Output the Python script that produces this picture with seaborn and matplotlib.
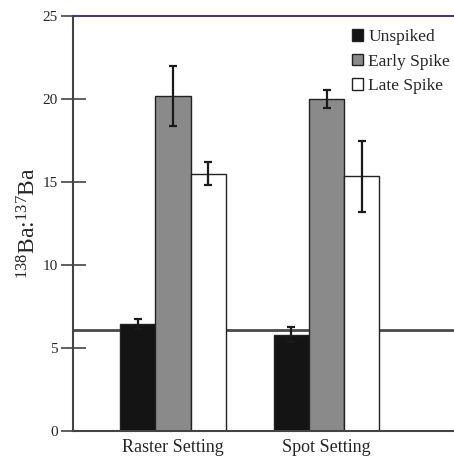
import matplotlib
matplotlib.use("Agg")
import matplotlib.pyplot as plt
import seaborn as sns
import pandas as pd
import numpy as np

settings = ["Raster Setting", "Spot Setting"]
treatments = ["Unspiked", "Early Spike", "Late Spike"]
unspiked = [6.45, 5.8]
early_spike = [20.2, 20.0]
late_spike = [15.5, 15.35]
unspiked_err = [0.3, 0.45]
early_err = [1.8, 0.55]
late_err = [0.7, 2.15]
reference_value = 6.1
y_ticks = [0, 5, 10, 15, 20, 25]

rows = []
for i, s in enumerate(settings):
    for t, vals, errs in zip(treatments, [unspiked, early_spike, late_spike],
                             [unspiked_err, early_err, late_err]):
        rows.append({"Setting": s, "Treatment": t, "Value": vals[i], "Err": errs[i]})
df = pd.DataFrame(rows)

sns.set_theme(style="white")
plt.rcParams["font.family"] = ["Liberation Serif", "DejaVu Serif"]
plt.rcParams["mathtext.fontset"] = "custom"
plt.rcParams["mathtext.rm"] = "Liberation Serif"
plt.rcParams["mathtext.it"] = "Liberation Serif:italic"

fig = plt.figure(figsize=(4.54, 4.62), dpi=100)
ax = fig.add_axes([73 / 454, 1 - 431 / 462, 1 - 73 / 454, (431 - 16) / 462])

palette = {"Unspiked": "#141414", "Early Spike": "#8a8a8a", "Late Spike": "#ffffff"}
sns.barplot(data=df, x="Setting", y="Value", hue="Treatment", order=settings,
            hue_order=treatments, palette=palette, width=0.685, errorbar=None,
            edgecolor="#222222", linewidth=1.0, saturation=1, ax=ax, zorder=2)

# error bars at the bar centres produced by seaborn
for container, t in zip(ax.containers, treatments):
    sub = df[df["Treatment"] == t].set_index("Setting").loc[settings]
    xs = [p.get_x() + p.get_width() / 2 for p in container.patches]
    ax.errorbar(xs, sub["Value"].values, yerr=sub["Err"].values, fmt="none",
                ecolor="#1a1a1a", elinewidth=1.6, capsize=2.8, capthick=1.6, zorder=3)

ax.axhline(reference_value, color="#4a4a4a", lw=2.0, zorder=0.5)

ax.set_ylim(0, 25)
ax.set_xlim(-0.651, 1.83)
ax.set_yticks(y_ticks)
ax.set_yticklabels([str(v) for v in y_ticks], fontsize=11)
ax.tick_params(axis="y", direction="inout", length=18, width=1.2, color="#444444",
               pad=2, left=True)
ax.tick_params(axis="x", length=0, labelsize=13, pad=6)
ax.set_xlabel("")
ax.set_ylabel(r"$^{138}\mathrm{Ba}$:$^{137}\mathrm{Ba}$", fontsize=17)
ax.yaxis.set_label_coords(-0.086, 0.5)

for side in ["left", "bottom"]:
    ax.spines[side].set_color("#444444")
    ax.spines[side].set_linewidth(1.5)
ax.spines["top"].set_color("#4a3a70")
ax.spines["top"].set_linewidth(1.5)
ax.spines["right"].set_visible(False)

leg = ax.legend(loc="upper left", bbox_to_anchor=(352 / 454, 1 - 29 / 462),
                bbox_transform=fig.transFigure, frameon=False, fontsize=12.5,
                handlelength=0.65, handleheight=0.65, handletextpad=0.3,
                labelspacing=0.5, borderaxespad=0, borderpad=0)

fig.savefig("out.png", dpi=100)
